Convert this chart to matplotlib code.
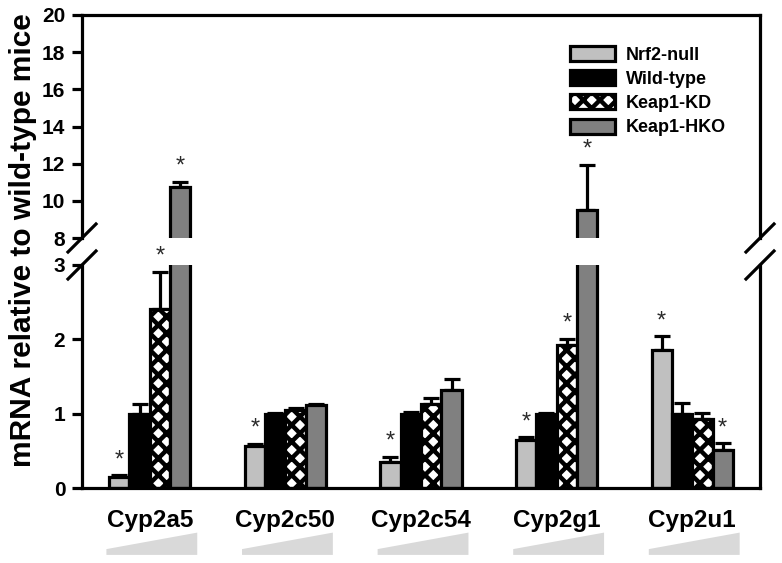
import numpy as np
import matplotlib.pyplot as plt
from matplotlib.patches import Polygon

plt.rcParams['font.family'] = ['Liberation Sans', 'DejaVu Sans']
plt.rcParams['font.weight'] = 'bold'
plt.rcParams['hatch.linewidth'] = 3.2
plt.rcParams['hatch.color'] = 'black'

genes = ['Cyp2a5', 'Cyp2c50', 'Cyp2c54', 'Cyp2g1', 'Cyp2u1']
groups = ['Nrf2-null', 'Wild-type', 'Keap1-KD', 'Keap1-HKO']

nrf2_null = [0.15, 0.56, 0.35, 0.65, 1.85]
wild_type = [1.0, 1.0, 1.0, 1.0, 1.0]
keap1_kd = [2.41, 1.05, 1.13, 1.93, 0.93]
keap1_hko = [10.75, 1.11, 1.32, 9.5, 0.51]

nrf2_null_err = [0.02, 0.03, 0.07, 0.03, 0.19]
wild_type_err = [0.13, 0.01, 0.02, 0.01, 0.14]
keap1_kd_err = [0.5, 0.02, 0.08, 0.08, 0.08]
keap1_hko_err = [0.28, 0.02, 0.15, 2.45, 0.09]

# 1 = significant vs wild-type (*)
nrf2_null_sig = [1, 1, 1, 1, 1]
wild_type_sig = [0, 0, 0, 0, 0]
keap1_kd_sig = [1, 0, 0, 1, 0]
keap1_hko_sig = [1, 0, 0, 1, 1]

series = [
    (nrf2_null, nrf2_null_err, nrf2_null_sig, dict(color='#c0c0c0')),
    (wild_type, wild_type_err, wild_type_sig, dict(color='black')),
    (keap1_kd, keap1_kd_err, keap1_kd_sig, dict(color='white', hatch='xx')),
    (keap1_hko, keap1_hko_err, keap1_hko_sig, dict(color='#808080')),
]

W, H = 782, 563
fig = plt.figure(figsize=(W / 100, H / 100), dpi=100)
left, right = 82 / W, 760 / W
ax_top = fig.add_axes([left, 1 - 238 / H, right - left, 223 / H])
ax_bot = fig.add_axes([left, 1 - 488 / H, right - left, 223 / H])

x = np.arange(len(genes))
width = 0.15
lw = 2.3

for ax, (lo, hi) in ((ax_top, (8, 20)), (ax_bot, (0, 3))):
    for k, (vals, errs, sig, style) in enumerate(series):
        pos = x + (k - 1.5) * width
        ax.bar(pos, vals, width, facecolor=style['color'], hatch=style.get('hatch'),
               edgecolor='black', linewidth=lw, label=groups[k], zorder=2)
        ax.errorbar(pos, vals, yerr=[np.zeros(len(vals)), errs], fmt='none',
                    ecolor='black', elinewidth=lw, capsize=6, capthick=lw, zorder=1)
        for p, v, e, s in zip(pos, vals, errs, sig):
            top = v + e
            if s and lo < top < hi:
                ax.annotate('*', (p, top), xytext=(0, 3), textcoords='offset points',
                            ha='center', va='bottom', fontsize=17, fontweight='normal',
                            color='#2a2a2a', annotation_clip=False)
    ax.set_xlim(-0.5, 4.5)
    ax.set_ylim(lo, hi)
    for s in ax.spines.values():
        s.set_linewidth(lw)
    ax.tick_params(axis='y', length=7, width=lw, labelsize=15, pad=5)
    ax.set_xticks([])

ax_top.set_yticks(np.arange(8, 21, 2))
ax_top.spines['bottom'].set_visible(False)
ax_bot.set_yticks([0, 1, 2, 3])
ax_bot.spines['top'].set_visible(False)

# break marks
dx, dy = 14 / 678, 14 / 223
for ax, y0 in ((ax_top, 0), (ax_bot, 1)):
    for x0 in (0, 1):
        ax.plot([x0 - dx, x0 + dx], [y0 - dy, y0 + dy], transform=ax.transAxes,
                color='black', lw=lw, clip_on=False)

# gene labels and gray wedges
tr = ax_bot.get_xaxis_transform()
for i, g in enumerate(genes):
    ax_bot.text(i, -0.145, g, transform=tr, ha='center', va='center', fontsize=17.5)
    ax_bot.add_patch(Polygon([(i - 0.32, -0.30), (i + 0.35, -0.30), (i + 0.35, -0.20),
                              (i - 0.32, -0.274)], closed=True, transform=tr,
                             facecolor='#d9d9d9', edgecolor='none', clip_on=False))

fig.text(23 / W, 1 - 240 / H, 'mRNA relative to wild-type mice', rotation=90,
         ha='center', va='center', fontsize=21.5)

ax_top.legend(loc='upper left', bbox_to_anchor=(570 / W, 1 - 46 / H),
              bbox_transform=fig.transFigure, frameon=False, fontsize=13,
              handlelength=2.5, handleheight=0.9, handletextpad=0.6,
              labelspacing=0.36, borderpad=0, borderaxespad=0)

fig.savefig('out.png', dpi=100)
